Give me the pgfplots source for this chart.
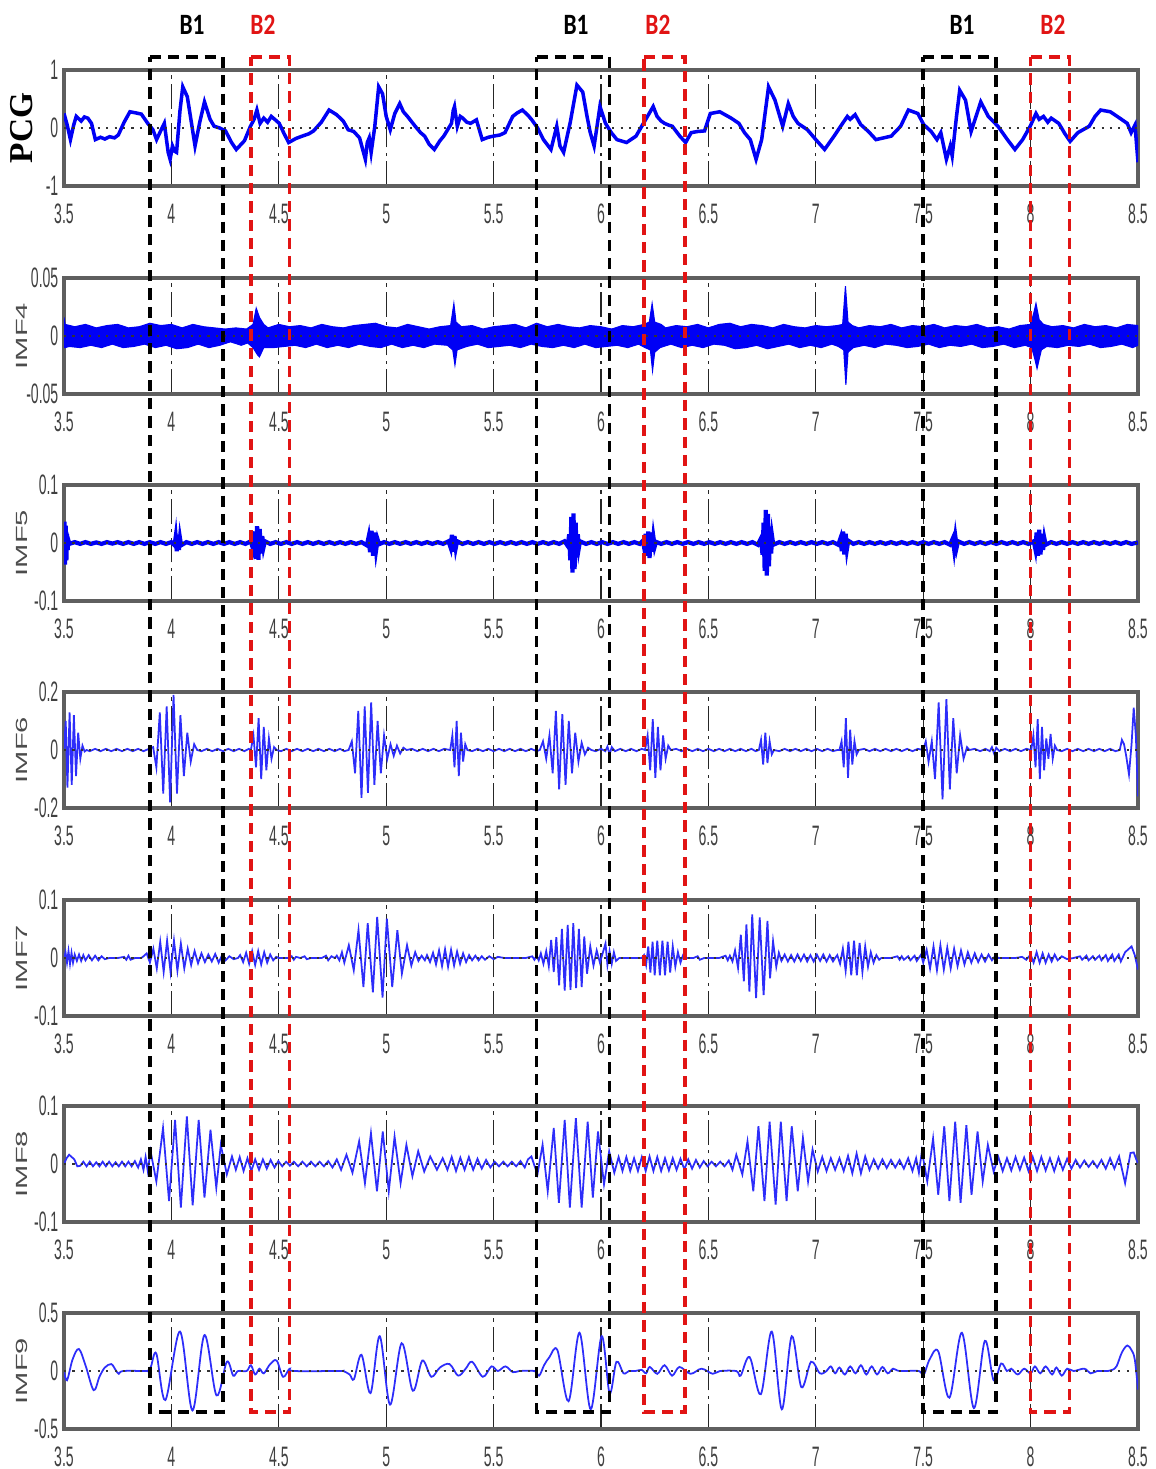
\documentclass[border=0pt]{standalone}
\usepackage{pgfplots}
\pgfplotsset{compat=1.18}
\usepackage{fontspec}
\setmainfont{Liberation Sans}
\newfontfamily\serifb{Liberation Serif}
\newfontfamily\carl{Carlito}
\definecolor{sig}{RGB}{0,0,245}
\definecolor{sigl}{RGB}{45,45,250}
\definecolor{frm}{RGB}{95,95,95}
\definecolor{bred}{RGB}{225,20,20}
\newcommand\tk[1]{\scalebox{0.5}[1]{\fontsize{8}{8}\selectfont #1}}
\newcommand\iml[1]{{\color{black!70}\scalebox{1.8}[1]{\fontsize{4.6}{5}\selectfont #1}}}
\newcommand\bl[1]{\scalebox{0.95}[1.2]{\carl\bfseries\fontsize{7}{7}\selectfont #1}}
\pgfplotsset{
 panel/.style={
   scale only axis, width=10.74cm, height=1.16cm,
   xmin=3.5, xmax=8.5, scaled ticks=false,
   xtick={3.5,4,4.5,5,5.5,6,6.5,7,7.5,8,8.5},
   xticklabels={\tk{3.5},\tk{4},\tk{4.5},\tk{5},\tk{5.5},\tk{6},\tk{6.5},\tk{7},\tk{7.5},\tk{8},\tk{8.5}},
   xmajorgrids,
   major grid style={black!85, line width=0.35pt, dash pattern=on 7pt off 1.5pt on 1pt off 1.5pt},
   axis line style={frm, line width=1.1pt},
   major tick length=0pt,
   xticklabel style={inner sep=0pt, anchor=north, yshift=-0.17cm, text=black!75},
   yticklabel style={inner sep=0pt, anchor=east, xshift=-0.05cm, text=black!75},
   every axis y label/.style={at={(axis description cs:-0.0395,0.5)}, anchor=center, rotate=90},
   clip=true,
 },
 zline/.style={black!80, line width=0.6pt, dash pattern=on 0.6pt off 1.8pt},
}
\begin{document}
\begin{tikzpicture}
\path[use as bounding box] (0,0) rectangle (11.56,-14.69);

% ---------------- PCG
\begin{axis}[panel, at={(0.64cm,-0.70cm)}, anchor=north west,
  ymin=-1, ymax=1, ytick={-1,0,1}, yticklabels={\tk{-1},\tk{0},\tk{1}},
  ylabel={\serifb\bfseries\fontsize{9.5}{10}\selectfont PCG}]
\addplot[sig, line width=1pt] coordinates {
(3.500,0.25)(3.515,0.05)(3.530,-0.20)(3.545,0.05)(3.557,0.20)(3.580,0.12)(3.595,0.19)(3.611,0.17)(3.628,0.08)(3.646,-0.20)(3.670,-0.16)(3.690,-0.19)(3.712,-0.15)(3.735,-0.17)(3.753,-0.12)(3.780,0.10)(3.807,0.28)(3.835,0.26)(3.860,0.24)(3.890,0.08)(3.914,-0.03)(3.931,-0.20)(3.950,-0.05)(3.967,0.08)(3.985,-0.42)(3.994,-0.54)(4.005,-0.31)(4.015,-0.40)(4.024,-0.42)(4.040,0.30)(4.053,0.71)(4.074,0.54)(4.095,0.05)(4.110,-0.31)(4.132,0.10)(4.154,0.45)(4.180,0.15)(4.199,0.03)(4.225,0.00)(4.252,-0.05)(4.280,-0.25)(4.302,-0.37)(4.340,-0.22)(4.368,0.03)(4.385,0.15)(4.398,0.31)(4.413,0.08)(4.430,0.17)(4.448,0.10)(4.465,0.20)(4.484,0.14)(4.502,0.08)(4.525,-0.10)(4.546,-0.25)(4.580,-0.18)(4.609,-0.14)(4.640,-0.10)(4.662,-0.05)(4.698,0.10)(4.734,0.31)(4.769,0.23)(4.800,0.12)(4.823,-0.03)(4.849,-0.06)(4.876,-0.17)(4.903,-0.54)(4.912,-0.25)(4.921,-0.17)(4.930,-0.42)(4.947,0.03)(4.965,0.71)(4.983,0.59)(5.000,0.20)(5.019,-0.03)(5.040,0.25)(5.063,0.42)(5.080,0.28)(5.099,0.20)(5.135,0.03)(5.160,-0.08)(5.179,-0.14)(5.200,-0.28)(5.224,-0.37)(5.250,-0.22)(5.268,-0.14)(5.304,0.08)(5.312,0.30)(5.318,0.37)(5.331,0.03)(5.345,0.20)(5.357,0.17)(5.375,0.10)(5.393,0.08)(5.420,0.14)(5.447,-0.20)(5.475,-0.16)(5.500,-0.14)(5.530,-0.12)(5.553,-0.08)(5.589,0.20)(5.610,0.26)(5.634,0.31)(5.660,0.22)(5.678,0.14)(5.705,0.00)(5.732,-0.20)(5.767,-0.37)(5.794,0.03)(5.809,-0.31)(5.826,-0.42)(5.857,0.10)(5.888,0.74)(5.915,0.62)(5.935,0.20)(5.950,-0.08)(5.968,-0.31)(5.995,0.37)(6.021,0.08)(6.048,-0.08)(6.074,-0.20)(6.119,-0.25)(6.163,-0.14)(6.207,0.14)(6.243,0.37)(6.261,0.20)(6.280,0.12)(6.296,0.08)(6.315,0.05)(6.332,0.03)(6.367,-0.14)(6.394,-0.25)(6.420,-0.08)(6.450,-0.06)(6.482,-0.05)(6.509,0.25)(6.553,0.28)(6.606,0.17)(6.642,0.08)(6.668,-0.08)(6.695,-0.20)(6.722,-0.54)(6.748,-0.20)(6.780,0.71)(6.810,0.48)(6.846,0.03)(6.872,0.42)(6.895,0.20)(6.917,0.08)(6.961,-0.03)(7.000,-0.20)(7.041,-0.37)(7.085,-0.14)(7.121,0.06)(7.147,0.20)(7.160,0.15)(7.183,0.23)(7.209,0.06)(7.245,-0.06)(7.280,-0.20)(7.316,-0.17)(7.351,-0.14)(7.395,0.03)(7.431,0.31)(7.475,0.25)(7.502,0.06)(7.537,-0.06)(7.564,-0.20)(7.582,-0.08)(7.608,-0.54)(7.626,-0.31)(7.635,-0.48)(7.655,0.20)(7.670,0.65)(7.697,0.48)(7.723,-0.06)(7.768,0.45)(7.803,0.20)(7.848,0.03)(7.892,-0.20)(7.927,-0.37)(7.963,-0.20)(7.998,0.03)(8.025,0.25)(8.040,0.15)(8.060,0.20)(8.080,0.10)(8.096,0.17)(8.131,0.08)(8.160,-0.10)(8.184,-0.23)(8.220,-0.08)(8.273,0.03)(8.300,0.20)(8.326,0.31)(8.371,0.28)(8.415,0.17)(8.450,0.08)(8.468,-0.08)(8.486,0.05)(8.500,-0.59)
};
\addplot[zline] coordinates {(3.5,0)(8.5,0)};
\end{axis}

% ---------------- IMF4
\begin{axis}[panel, at={(0.64cm,-2.78cm)}, anchor=north west,
  ymin=-0.05, ymax=0.05, ytick={-0.05,0,0.05}, yticklabels={\tk{-0.05},\tk{0},\tk{0.05}},
  ylabel={\iml{IMF4}}]
\addplot[sig, fill=sig, line width=0.3pt] coordinates {
(3.500,0.016)(3.505,0.010)(3.55,0.008)(3.60,0.010)(3.65,0.007)(3.70,0.009)(3.75,0.010)(3.80,0.007)(3.85,0.008)(3.90,0.011)(3.95,0.009)(4.00,0.010)(4.05,0.007)(4.10,0.010)(4.15,0.008)(4.20,0.007)(4.25,0.006)(4.30,0.007)(4.35,0.006)(4.38,0.010)(4.395,0.024)(4.41,0.016)(4.43,0.010)(4.45,0.007)(4.50,0.010)(4.55,0.008)(4.60,0.009)(4.65,0.007)(4.70,0.010)(4.75,0.008)(4.80,0.007)(4.85,0.009)(4.90,0.010)(4.95,0.011)(5.00,0.008)(5.05,0.007)(5.10,0.010)(5.15,0.008)(5.20,0.006)(5.25,0.008)(5.30,0.009)(5.315,0.028)(5.325,0.012)(5.35,0.008)(5.40,0.009)(5.45,0.006)(5.50,0.008)(5.55,0.009)(5.60,0.010)(5.65,0.007)(5.70,0.011)(5.75,0.008)(5.80,0.010)(5.85,0.008)(5.90,0.007)(5.95,0.009)(6.00,0.008)(6.05,0.006)(6.10,0.009)(6.15,0.008)(6.20,0.010)(6.225,0.012)(6.238,0.028)(6.25,0.012)(6.28,0.010)(6.30,0.007)(6.35,0.009)(6.40,0.008)(6.45,0.010)(6.50,0.007)(6.55,0.010)(6.60,0.011)(6.65,0.008)(6.70,0.010)(6.75,0.009)(6.80,0.007)(6.85,0.010)(6.90,0.008)(6.95,0.007)(7.00,0.009)(7.05,0.008)(7.10,0.009)(7.125,0.010)(7.138,0.043)(7.15,0.012)(7.17,0.009)(7.20,0.007)(7.25,0.009)(7.30,0.008)(7.35,0.010)(7.40,0.007)(7.45,0.009)(7.50,0.008)(7.55,0.010)(7.60,0.007)(7.65,0.009)(7.70,0.008)(7.75,0.010)(7.80,0.007)(7.85,0.008)(7.90,0.006)(7.95,0.009)(8.00,0.010)(8.015,0.020)(8.025,0.028)(8.04,0.014)(8.06,0.010)(8.10,0.008)(8.15,0.009)(8.20,0.007)(8.25,0.010)(8.30,0.008)(8.35,0.009)(8.40,0.007)(8.45,0.010)(8.50,0.009)
(8.50,-0.008)(8.475,-0.010)(8.425,-0.007)(8.375,-0.009)(8.325,-0.010)(8.275,-0.007)(8.225,-0.009)(8.175,-0.008)(8.125,-0.010)(8.075,-0.009)(8.05,-0.012)(8.03,-0.028)(8.02,-0.020)(8.005,-0.010)(7.975,-0.008)(7.925,-0.010)(7.875,-0.007)(7.825,-0.009)(7.775,-0.010)(7.725,-0.007)(7.675,-0.009)(7.625,-0.008)(7.575,-0.010)(7.525,-0.007)(7.475,-0.009)(7.425,-0.010)(7.375,-0.008)(7.325,-0.007)(7.275,-0.010)(7.225,-0.008)(7.175,-0.010)(7.15,-0.014)(7.14,-0.042)(7.13,-0.012)(7.105,-0.009)(7.075,-0.007)(7.025,-0.010)(6.975,-0.008)(6.925,-0.010)(6.875,-0.007)(6.825,-0.009)(6.775,-0.011)(6.725,-0.008)(6.675,-0.010)(6.625,-0.011)(6.575,-0.008)(6.525,-0.007)(6.475,-0.010)(6.425,-0.008)(6.375,-0.010)(6.325,-0.007)(6.275,-0.010)(6.25,-0.014)(6.24,-0.030)(6.23,-0.012)(6.205,-0.010)(6.175,-0.007)(6.125,-0.010)(6.075,-0.008)(6.025,-0.009)(5.975,-0.010)(5.925,-0.007)(5.875,-0.010)(5.825,-0.008)(5.775,-0.010)(5.725,-0.009)(5.675,-0.007)(5.625,-0.010)(5.575,-0.008)(5.525,-0.009)(5.475,-0.010)(5.425,-0.007)(5.375,-0.009)(5.33,-0.012)(5.32,-0.025)(5.31,-0.012)(5.285,-0.008)(5.225,-0.007)(5.175,-0.010)(5.125,-0.008)(5.075,-0.010)(5.025,-0.007)(4.975,-0.010)(4.925,-0.009)(4.875,-0.007)(4.825,-0.010)(4.775,-0.008)(4.725,-0.010)(4.675,-0.007)(4.625,-0.010)(4.575,-0.008)(4.525,-0.009)(4.475,-0.010)(4.43,-0.010)(4.41,-0.018)(4.40,-0.016)(4.38,-0.010)(4.355,-0.006)(4.325,-0.008)(4.275,-0.005)(4.225,-0.008)(4.175,-0.010)(4.125,-0.007)(4.075,-0.010)(4.025,-0.011)(3.975,-0.008)(3.925,-0.010)(3.875,-0.007)(3.825,-0.009)(3.775,-0.010)(3.725,-0.007)(3.675,-0.010)(3.625,-0.008)(3.575,-0.010)(3.525,-0.009)(3.505,-0.010)(3.50,-0.010)
};
\addplot[zline] coordinates {(3.5,0)(8.5,0)};
\end{axis}

% ---------------- IMF5
\begin{axis}[panel, at={(0.64cm,-4.85cm)}, anchor=north west,
  ymin=-0.1, ymax=0.1, ytick={-0.1,0,0.1}, yticklabels={\tk{-0.1},\tk{0},\tk{0.1}},
  ylabel={\iml{IMF5}}]
\addplot[sig, line width=1.2pt] coordinates {
(3.500,0.000)(3.502,0.037)(3.505,-0.037)(3.508,0.030)(3.511,-0.030)(3.514,0.015)(3.517,-0.012)(3.520,0.005)(3.525,-0.0015)
(3.55,0.0015)(3.575,-0.0015)(3.60,0.0015)(3.625,-0.0015)(3.65,0.001)(3.675,-0.0015)(3.70,0.0015)(3.725,-0.001)(3.75,0.0015)(3.775,-0.0015)(3.80,0.0015)(3.825,-0.0015)(3.85,0.0015)(3.875,-0.0015)(3.90,0.0015)(3.925,-0.0015)(3.95,0.0015)(3.975,-0.0015)(4.00,0.0015)(4.015,-0.004)
(4.020,0.010)(4.025,-0.014)(4.030,0.014)(4.035,-0.012)(4.040,0.008)(4.045,-0.004)
(4.07,0.0015)(4.095,-0.0015)(4.12,0.0015)(4.145,-0.0015)(4.17,0.0015)(4.195,-0.0015)(4.22,0.0015)(4.245,-0.0015)(4.27,0.0015)(4.295,-0.0015)(4.32,0.0015)(4.345,-0.0015)(4.37,0.003)
(4.380,-0.010)(4.387,0.020)(4.393,-0.027)(4.399,0.029)(4.405,-0.029)(4.411,0.024)(4.417,-0.018)(4.423,0.012)(4.429,-0.007)(4.435,0.003)
(4.46,-0.0015)(4.485,0.0015)(4.51,-0.0015)(4.535,0.0015)(4.56,-0.0015)(4.585,0.0015)(4.61,-0.0015)(4.635,0.0015)(4.66,-0.0015)(4.685,0.0015)(4.71,-0.0015)(4.735,0.0015)(4.76,-0.0015)(4.785,0.0015)(4.81,-0.0015)(4.835,0.0015)(4.86,-0.0015)(4.885,0.0015)(4.910,-0.004)
(4.918,0.010)(4.925,-0.016)(4.932,0.021)(4.939,-0.022)(4.946,0.018)(4.953,-0.012)(4.960,0.006)(4.967,-0.002)
(4.99,0.0015)(5.015,-0.0015)(5.04,0.0015)(5.065,-0.0015)(5.09,0.0015)(5.115,-0.0015)(5.14,0.0015)(5.165,-0.0015)(5.19,0.0015)(5.215,-0.0015)(5.24,0.0015)(5.265,-0.0015)(5.29,0.003)
(5.300,-0.008)(5.306,0.014)(5.312,-0.015)(5.318,0.012)(5.324,-0.008)(5.330,0.003)
(5.355,-0.0015)(5.38,0.0015)(5.405,-0.0015)(5.43,0.0015)(5.455,-0.0015)(5.48,0.0015)(5.505,-0.0015)(5.53,0.0015)(5.555,-0.0015)(5.58,0.0015)(5.605,-0.0015)(5.63,0.0015)(5.655,-0.0015)(5.68,0.0015)(5.705,-0.0015)(5.73,0.0015)(5.755,-0.0015)(5.78,0.0015)(5.805,-0.0015)(5.83,0.003)(5.845,-0.005)
(5.852,0.015)(5.857,-0.030)(5.862,0.045)(5.867,-0.051)(5.872,0.051)(5.877,-0.045)(5.882,0.035)(5.887,-0.025)(5.892,0.015)(5.897,-0.008)(5.902,0.003)
(5.93,-0.0015)(5.955,0.0015)(5.98,-0.0015)(6.005,0.0015)(6.03,-0.0015)(6.055,0.0015)(6.08,-0.0015)(6.105,0.0015)(6.13,-0.0015)(6.155,0.0015)(6.18,-0.0015)(6.195,0.004)
(6.202,-0.010)(6.208,0.016)(6.214,-0.022)(6.220,0.020)(6.226,-0.026)(6.232,0.018)(6.238,-0.015)(6.244,0.010)(6.250,-0.006)(6.256,0.002)
(6.28,-0.0015)(6.305,0.0015)(6.33,-0.0015)(6.355,0.0015)(6.38,-0.0015)(6.405,0.0015)(6.43,-0.0015)(6.455,0.0015)(6.48,-0.0015)(6.505,0.0015)(6.53,-0.0015)(6.555,0.0015)(6.58,-0.0015)(6.605,0.0015)(6.63,-0.0015)(6.655,0.0015)(6.68,-0.0015)(6.705,0.0015)(6.73,-0.003)(6.745,0.008)
(6.752,-0.020)(6.757,0.035)(6.762,-0.048)(6.767,0.057)(6.772,-0.056)(6.777,0.050)(6.782,-0.040)(6.787,0.028)(6.792,-0.018)(6.797,0.010)(6.802,-0.003)
(6.83,0.0015)(6.855,-0.0015)(6.88,0.0015)(6.905,-0.0015)(6.93,0.0015)(6.955,-0.0015)(6.98,0.0015)(7.005,-0.0015)(7.03,0.0015)(7.055,-0.0015)(7.08,0.0015)(7.105,-0.003)
(7.115,0.008)(7.121,-0.014)(7.127,0.020)(7.133,-0.020)(7.139,0.016)(7.145,-0.010)(7.151,0.004)
(7.175,-0.0015)(7.20,0.0015)(7.225,-0.0015)(7.25,0.0015)(7.275,-0.0015)(7.30,0.0015)(7.325,-0.0015)(7.35,0.0015)(7.375,-0.0015)(7.40,0.0015)(7.425,-0.0015)(7.45,0.0015)(7.475,-0.0015)(7.50,0.0015)(7.525,-0.0015)(7.55,0.0015)(7.575,-0.0015)(7.60,0.0015)(7.625,-0.003)
(7.638,0.008)(7.644,-0.010)(7.650,0.010)(7.656,-0.007)(7.662,0.003)
(7.69,-0.0015)(7.715,0.0015)(7.74,-0.0015)(7.765,0.0015)(7.79,-0.0015)(7.815,0.0015)(7.84,-0.0015)(7.865,0.0015)(7.89,-0.0015)(7.915,0.0015)(7.94,-0.0015)(7.965,0.0015)(7.99,-0.0015)(8.015,0.003)
(8.022,-0.010)(8.028,0.018)(8.034,-0.022)(8.040,0.023)(8.046,-0.020)(8.052,0.016)(8.058,-0.012)(8.064,0.008)(8.070,-0.003)
(8.095,0.0015)(8.12,-0.0015)(8.145,0.0015)(8.17,-0.0015)(8.195,0.0015)(8.22,-0.0015)(8.245,0.0015)(8.27,-0.0015)(8.295,0.0015)(8.32,-0.0015)(8.345,0.0015)(8.37,-0.0015)(8.395,0.0015)(8.42,-0.0015)(8.445,0.0015)(8.47,-0.0015)(8.5,0.001)
};
\addplot[zline] coordinates {(3.5,0)(8.5,0)};
\end{axis}

% ---------------- IMF6
\begin{axis}[panel, at={(0.64cm,-6.92cm)}, anchor=north west,
  ymin=-0.2, ymax=0.2, ytick={-0.2,0,0.2}, yticklabels={\tk{-0.2},\tk{0},\tk{0.2}},
  ylabel={\iml{IMF6}}]
\addplot[sigl, line width=0.5pt] coordinates {
(3.500,0)(3.508,0.10)(3.516,-0.13)(3.526,0.13)(3.536,-0.12)(3.546,0.12)(3.556,-0.09)(3.566,0.06)(3.576,-0.03)(3.586,0.015)(3.596,-0.005)(3.605,0.0)
(3.62,-0.004)(3.645,0.004)(3.67,-0.004)(3.695,0.004)(3.72,-0.004)(3.745,0.004)(3.77,-0.004)(3.795,0.004)(3.82,-0.004)(3.845,0.004)(3.87,-0.004)(3.895,0.004)
(3.915,0.01)(3.930,-0.06)(3.946,0.13)(3.962,-0.15)(3.978,0.15)(3.994,-0.18)(4.010,0.19)(4.026,-0.15)(4.042,0.12)(4.058,-0.09)(4.074,0.06)(4.090,-0.04)(4.106,0.02)(4.120,0.0)
(4.14,-0.004)(4.165,0.004)(4.19,-0.004)(4.215,0.004)(4.24,-0.004)(4.265,0.004)(4.29,-0.004)(4.315,0.004)(4.34,-0.004)(4.36,0.004)(4.37,0.0)
(4.382,0.05)(4.394,-0.06)(4.406,0.11)(4.418,-0.10)(4.430,0.08)(4.442,-0.07)(4.454,0.04)(4.466,-0.03)(4.478,0.01)(4.490,0.0)
(4.51,-0.004)(4.535,0.004)(4.56,-0.004)(4.585,0.004)(4.61,-0.004)(4.635,0.004)(4.66,-0.004)(4.685,0.004)(4.71,-0.004)(4.735,0.004)(4.76,-0.004)(4.785,0.004)(4.805,-0.004)(4.825,0.0)
(4.840,0.03)(4.855,-0.08)(4.870,0.135)(4.885,-0.165)(4.900,0.15)(4.915,-0.148)(4.930,0.164)(4.945,-0.12)(4.960,0.10)(4.975,-0.08)(4.990,0.05)(5.005,-0.03)(5.020,0.02)(5.035,-0.02)(5.050,0.015)(5.065,-0.012)(5.080,0.008)(5.095,0)
(5.12,0.004)(5.145,-0.004)(5.17,0.004)(5.195,-0.004)(5.22,0.004)(5.245,-0.004)(5.27,0.004)(5.298,0)
(5.308,0.05)(5.318,-0.06)(5.328,0.10)(5.338,-0.09)(5.348,0.06)(5.358,-0.04)(5.368,0.02)(5.378,0)
(5.40,-0.004)(5.425,0.004)(5.45,-0.004)(5.475,0.004)(5.50,-0.004)(5.525,0.004)(5.55,-0.004)(5.575,0.004)(5.60,-0.004)(5.625,0.004)(5.65,-0.004)(5.675,0.004)(5.70,-0.004)(5.715,0)
(5.730,0.03)(5.745,-0.03)(5.760,0.05)(5.775,-0.08)(5.790,0.135)(5.805,-0.136)(5.820,0.124)(5.835,-0.12)(5.850,0.10)(5.865,-0.08)(5.880,0.06)(5.895,-0.04)(5.910,0.025)(5.925,-0.015)(5.940,0.008)(5.955,0)
(5.975,-0.004)(6.00,0.004)(6.020,-0.004)(6.030,0.012)(6.040,-0.015)(6.050,0.010)(6.065,-0.004)(6.09,0.004)(6.115,-0.004)(6.14,0.004)(6.165,-0.004)(6.19,0.004)(6.205,0.0)
(6.217,0.05)(6.229,-0.07)(6.241,0.106)(6.253,-0.096)(6.265,0.08)(6.277,-0.07)(6.289,0.05)(6.301,-0.03)(6.313,0.015)(6.325,0)
(6.35,0.004)(6.375,-0.004)(6.40,0.004)(6.425,-0.004)(6.45,0.004)(6.475,-0.004)(6.50,0.004)(6.525,-0.004)(6.55,0.004)(6.575,-0.004)(6.60,0.004)(6.625,-0.004)(6.65,0.004)(6.675,-0.004)(6.70,0.004)(6.72,-0.004)(6.735,0.0)
(6.745,0.035)(6.755,-0.05)(6.765,0.06)(6.775,-0.045)(6.785,0.03)(6.795,-0.015)(6.805,0)
(6.83,-0.004)(6.855,0.004)(6.88,-0.004)(6.905,0.004)(6.93,-0.004)(6.955,0.004)(6.98,-0.004)(7.005,0.004)(7.03,-0.004)(7.055,0.004)(7.08,-0.004)(7.10,0.0)
(7.110,0)(7.120,0.03)(7.130,-0.06)(7.140,0.11)(7.150,-0.096)(7.160,0.07)(7.170,-0.05)(7.180,0.03)(7.190,-0.015)(7.200,0)
(7.225,0.004)(7.25,-0.004)(7.275,0.004)(7.30,-0.004)(7.325,0.004)(7.35,-0.004)(7.375,0.004)(7.40,-0.004)(7.425,0.004)(7.45,-0.004)(7.475,0.004)(7.50,0.0)
(7.512,0.03)(7.525,-0.04)(7.540,0.03)(7.555,-0.10)(7.572,0.164)(7.590,-0.17)(7.608,0.175)(7.624,-0.136)(7.640,0.11)(7.656,-0.08)(7.672,0.05)(7.688,-0.03)(7.704,0.01)(7.715,0)
(7.74,0.004)(7.765,-0.004)(7.79,0.004)(7.81,-0.004)(7.820,0.010)(7.830,-0.012)(7.840,0.008)(7.855,-0.004)(7.88,0.004)(7.905,-0.004)(7.93,0.004)(7.955,-0.004)(7.98,0.004)(8.003,0.0)
(8.013,0.05)(8.023,-0.06)(8.033,0.106)(8.043,-0.10)(8.053,0.08)(8.063,-0.07)(8.073,0.04)(8.083,-0.03)(8.093,0.055)(8.103,-0.03)(8.113,0.015)(8.123,0)
(8.145,-0.004)(8.17,0.004)(8.195,-0.004)(8.22,0.004)(8.245,-0.004)(8.27,0.004)(8.295,-0.004)(8.32,0.004)(8.345,-0.004)(8.37,0.004)(8.395,-0.004)(8.415,0.0)
(8.425,0.035)(8.435,0.02)(8.445,-0.02)(8.458,-0.084)(8.470,0.02)(8.480,0.146)(8.490,0.05)(8.500,-0.16)
};
\addplot[zline] coordinates {(3.5,0)(8.5,0)};
\end{axis}

% ---------------- IMF7
\begin{axis}[panel, at={(0.64cm,-9.00cm)}, anchor=north west,
  ymin=-0.1, ymax=0.1, ytick={-0.1,0,0.1}, yticklabels={\tk{-0.1},\tk{0},\tk{0.1}},
  ylabel={\iml{IMF7}}]
\addplot[sigl, line width=0.5pt] coordinates {
(3.500,0)(3.507,0.010)(3.514,-0.008)(3.521,0.012)(3.528,-0.010)(3.535,0.009)(3.542,-0.008)(3.550,0.006)(3.560,-0.005)(3.570,0.006)(3.580,-0.005)(3.590,0.005)(3.600,-0.004)(3.615,0.005)(3.630,-0.004)(3.645,0.004)(3.660,-0.004)(3.675,0.003)(3.690,-0.002)(3.710,0)(3.750,0)(3.780,0.002)(3.790,-0.003)(3.800,0.004)(3.810,-0.003)(3.830,0)(3.860,0)
(3.870,0.003)(3.885,0.008)(3.900,-0.008)(3.916,0.016)(3.932,-0.018)(3.948,0.028)(3.964,-0.024)(3.980,0.030)(3.996,-0.024)(4.012,0.030)(4.028,-0.022)(4.044,0.025)(4.060,-0.018)(4.076,0.016)(4.092,-0.012)(4.108,0.012)(4.124,-0.009)(4.140,0.008)(4.156,-0.007)(4.172,0.006)(4.188,-0.006)(4.204,0.007)(4.220,-0.008)(4.236,0.005)(4.252,-0.004)(4.270,0.003)(4.290,-0.002)(4.310,0)
(4.320,0.005)(4.334,-0.007)(4.348,0.009)(4.362,-0.010)(4.376,0.012)(4.390,-0.012)(4.404,0.012)(4.418,-0.011)(4.432,0.010)(4.446,-0.008)(4.460,0.006)(4.474,-0.004)(4.488,0.002)(4.500,0)
(4.550,0)(4.560,0.003)(4.570,-0.003)(4.580,0.002)(4.600,0)(4.620,0.003)(4.630,-0.002)(4.650,0)(4.700,0)(4.720,0.004)(4.730,-0.004)(4.745,0.003)(4.760,0)(4.770,0.004)(4.782,-0.004)(4.794,0.010)(4.805,-0.008)(4.826,0.022)(4.849,-0.021)(4.871,0.048)(4.894,-0.050)(4.914,0.060)(4.938,-0.059)(4.958,0.071)(4.983,-0.068)(5.003,0.068)(5.028,-0.050)(5.052,0.048)(5.073,-0.027)(5.097,0.022)(5.117,-0.013)(5.135,0.010)(5.150,-0.005)(5.165,0.004)(5.180,-0.004)
(5.190,0.005)(5.204,-0.007)(5.218,0.009)(5.232,-0.011)(5.246,0.013)(5.260,-0.014)(5.274,0.015)(5.288,-0.015)(5.302,0.014)(5.316,-0.013)(5.330,0.011)(5.344,-0.010)(5.358,0.008)(5.372,-0.007)(5.386,0.005)(5.400,-0.004)(5.415,0.004)(5.430,-0.004)(5.445,0.003)(5.460,-0.003)(5.480,0.003)(5.500,-0.002)(5.520,0.002)(5.550,0)
(5.650,0)(5.680,0.003)(5.690,-0.003)(5.700,0.004)(5.710,-0.004)
(5.720,0.008)(5.732,-0.010)(5.745,0.012)(5.757,-0.014)(5.768,0.031)(5.780,-0.024)(5.792,0.036)(5.805,-0.047)(5.818,0.050)(5.831,-0.056)(5.845,0.057)(5.858,-0.055)(5.871,0.060)(5.884,-0.052)(5.897,0.050)(5.910,-0.050)(5.922,0.037)(5.935,-0.027)(5.950,0.020)(5.965,-0.013)(5.980,0.013)(5.995,-0.008)(6.021,0.025)(6.030,-0.012)(6.040,0.012)(6.050,-0.010)(6.060,0.010)(6.070,-0.005)(6.085,0)(6.190,0)
(6.200,0.005)(6.210,-0.012)(6.220,0.020)(6.230,-0.025)(6.240,0.028)(6.250,-0.030)(6.262,0.030)(6.274,-0.030)(6.286,0.030)(6.298,-0.030)(6.310,0.028)(6.322,-0.025)(6.334,0.020)(6.346,-0.015)(6.358,0.010)(6.370,-0.008)(6.382,0.005)(6.395,0)(6.430,0)(6.450,0.003)(6.460,-0.003)(6.480,0)(6.550,0)(6.580,0.004)(6.590,-0.004)
(6.600,0.004)(6.612,-0.006)(6.624,0.013)(6.638,-0.017)(6.651,0.040)(6.665,-0.040)(6.677,0.058)(6.691,-0.058)(6.704,0.075)(6.722,-0.069)(6.739,0.070)(6.757,-0.064)(6.775,0.064)(6.787,-0.035)(6.801,0.029)(6.816,-0.015)(6.828,0.009)(6.840,-0.005)
(6.855,0.006)(6.870,-0.006)(6.885,0.005)(6.900,-0.006)(6.915,0.006)(6.930,-0.005)(6.945,0.006)(6.960,-0.006)(6.975,0.005)(6.990,-0.006)(7.005,0.006)(7.020,-0.005)(7.035,0.006)(7.050,-0.006)(7.065,0.005)(7.080,-0.006)(7.090,0)
(7.100,0.005)(7.113,-0.010)(7.126,0.016)(7.139,-0.022)(7.152,0.028)(7.165,-0.030)(7.178,0.030)(7.191,-0.030)(7.204,0.026)(7.217,-0.024)(7.230,0.020)(7.243,-0.015)(7.256,0.010)(7.269,-0.008)(7.282,0.005)(7.295,-0.003)(7.305,0)
(7.350,0)(7.380,0.003)(7.390,-0.003)(7.400,0.003)(7.410,-0.003)(7.430,0.003)(7.440,-0.004)(7.460,0.004)(7.470,-0.005)(7.490,0.006)
(7.500,-0.008)(7.516,0.014)(7.532,-0.018)(7.548,0.020)(7.564,-0.021)(7.580,0.022)(7.596,-0.020)(7.612,0.018)(7.628,-0.018)(7.644,0.016)(7.660,-0.014)(7.676,0.013)(7.692,-0.011)(7.708,0.010)(7.724,-0.008)(7.740,0.008)(7.756,-0.007)(7.772,0.006)(7.788,-0.006)(7.804,0.006)(7.820,-0.004)(7.836,0.004)(7.850,0)
(7.930,0)(7.960,0.002)(7.980,-0.003)
(8.000,0.006)(8.014,-0.008)(8.028,0.010)(8.042,-0.008)(8.056,0.008)(8.070,-0.008)(8.084,0.006)(8.098,-0.006)(8.112,0.006)(8.126,-0.004)(8.145,0.003)(8.170,-0.002)(8.200,0)
(8.230,0.003)(8.240,-0.003)(8.260,0.004)(8.270,-0.004)(8.290,0.003)(8.300,-0.003)(8.320,0.004)(8.330,-0.004)(8.350,0.005)(8.360,-0.005)(8.380,0.006)(8.390,-0.005)(8.410,0.006)(8.420,-0.006)(8.440,0.010)(8.455,0.015)(8.470,0.020)(8.485,0.005)(8.500,-0.020)
};
\addplot[zline] coordinates {(3.5,0)(8.5,0)};
\end{axis}

% ---------------- IMF8
\begin{axis}[panel, at={(0.64cm,-11.06cm)}, anchor=north west,
  ymin=-0.1, ymax=0.1, ytick={-0.1,0,0.1}, yticklabels={\tk{-0.1},\tk{0},\tk{0.1}},
  ylabel={\iml{IMF8}}]
\addplot[sigl, line width=0.5pt] coordinates {
(3.500,0)(3.512,0.010)(3.524,0.016)(3.536,0.012)(3.548,0.008)(3.562,-0.004)(3.576,-0.003)(3.590,0.004)(3.605,-0.004)(3.620,0.004)(3.635,-0.004)(3.650,0.003)(3.665,-0.004)(3.680,0.004)(3.695,-0.004)(3.710,0.004)(3.725,-0.004)(3.740,0.003)(3.755,-0.004)(3.770,0.004)(3.785,-0.004)(3.800,0.004)(3.815,-0.004)(3.830,0.005)(3.845,-0.006)(3.858,0.008)(3.870,-0.010)(3.880,0.012)(3.890,-0.012)
(3.903,0.022)(3.930,-0.030)(3.961,0.062)(3.989,-0.064)(4.017,0.076)(4.044,-0.075)(4.072,0.082)(4.099,-0.071)(4.127,0.076)(4.154,-0.058)(4.182,0.059)(4.209,-0.041)(4.230,0.033)(4.258,-0.018)(4.282,0.013)
(4.300,-0.010)(4.318,0.012)(4.336,-0.012)(4.354,0.010)(4.372,-0.012)(4.390,0.008)(4.408,-0.010)(4.426,0.008)(4.444,-0.008)(4.462,0.007)(4.480,-0.006)(4.498,0.005)(4.516,-0.004)(4.534,0.004)(4.552,-0.003)(4.570,0.004)(4.590,-0.004)(4.610,0.004)(4.630,-0.004)(4.650,0.004)(4.670,-0.004)(4.690,0.004)(4.710,-0.004)(4.730,0.005)(4.750,-0.006)(4.770,0.008)(4.790,-0.010)
(4.815,0.016)(4.843,-0.015)(4.874,0.039)(4.901,-0.033)(4.929,0.053)(4.957,-0.047)(4.984,0.056)(5.012,-0.047)(5.039,0.047)(5.067,-0.033)(5.094,0.033)(5.122,-0.021)(5.149,0.022)(5.177,-0.013)(5.205,0.013)(5.236,-0.010)(5.263,0.010)
(5.285,-0.010)(5.305,0.012)(5.325,-0.012)(5.345,0.011)(5.365,-0.010)(5.385,0.012)(5.405,-0.010)(5.425,0.009)(5.445,-0.008)(5.465,0.007)(5.485,-0.006)(5.505,0.004)(5.525,-0.004)(5.545,0.004)(5.565,-0.004)(5.585,0.004)(5.605,-0.004)(5.625,0.005)(5.645,-0.006)(5.660,0.008)
(5.676,0.013)(5.704,-0.018)(5.728,0.033)(5.752,-0.047)(5.780,0.062)(5.804,-0.067)(5.831,0.076)(5.855,-0.075)(5.883,0.079)(5.910,-0.075)(5.938,0.073)(5.962,-0.058)(5.986,0.056)(6.014,-0.035)(6.038,0.022)(6.062,-0.015)
(6.082,0.012)(6.100,-0.012)(6.118,0.012)(6.136,-0.012)(6.154,0.010)(6.172,-0.012)(6.190,0.012)(6.208,-0.012)(6.226,0.013)(6.244,-0.012)(6.262,0.012)(6.280,-0.012)(6.298,0.010)(6.316,-0.011)(6.334,0.010)(6.352,-0.010)(6.370,0.009)(6.388,-0.009)(6.406,0.008)(6.424,-0.008)(6.442,0.007)(6.460,-0.006)(6.478,0.005)(6.496,-0.004)(6.515,0.004)(6.535,-0.004)(6.555,0.004)(6.575,-0.004)(6.595,0.006)(6.612,-0.010)
(6.630,0.016)(6.658,-0.018)(6.682,0.039)(6.709,-0.047)(6.733,0.065)(6.761,-0.064)(6.785,0.073)(6.813,-0.070)(6.837,0.073)(6.864,-0.064)(6.888,0.065)(6.916,-0.047)(6.940,0.045)(6.964,-0.030)(6.985,0.025)(7.009,-0.013)
(7.030,0.012)(7.050,-0.012)(7.070,0.010)(7.090,-0.010)(7.110,0.010)(7.130,-0.012)(7.150,0.014)(7.170,-0.016)(7.190,0.018)(7.210,-0.016)(7.230,0.013)(7.250,-0.010)(7.270,0.008)(7.290,-0.008)(7.310,0.008)(7.330,-0.007)(7.350,0.007)(7.370,-0.006)(7.390,0.007)(7.410,-0.008)(7.430,0.010)(7.450,-0.012)(7.467,0.010)
(7.480,-0.015)(7.494,0.022)(7.519,-0.030)(7.546,0.044)(7.570,-0.053)(7.598,0.065)(7.622,-0.064)(7.649,0.073)(7.674,-0.067)(7.701,0.067)(7.725,-0.053)(7.753,0.056)(7.777,-0.030)(7.801,0.033)(7.828,-0.013)
(7.850,0.012)(7.870,-0.012)(7.890,0.010)(7.910,-0.011)(7.930,0.012)(7.950,-0.010)(7.970,0.011)(7.990,-0.012)(8.010,0.012)(8.030,-0.012)(8.050,0.012)(8.070,-0.011)(8.090,0.010)(8.110,-0.012)(8.130,0.011)(8.150,-0.010)(8.170,0.009)(8.190,-0.008)(8.210,0.007)(8.230,-0.006)(8.250,0.006)(8.270,-0.005)(8.290,0.005)(8.310,-0.006)(8.330,0.007)(8.350,-0.008)(8.370,0.010)(8.390,-0.008)(8.412,0.013)(8.440,-0.033)(8.465,0.019)(8.480,0.020)(8.495,0.005)(8.500,0.002)
};
\addplot[zline] coordinates {(3.5,0)(8.5,0)};
\end{axis}

% ---------------- IMF9
\begin{axis}[panel, at={(0.64cm,-13.13cm)}, anchor=north west,
  ymin=-0.5, ymax=0.5, ytick={-0.5,0,0.5}, yticklabels={\tk{-0.5},\tk{0},\tk{0.5}},
  ylabel={\iml{IMF9}}]
\addplot[sigl, line width=0.5pt, smooth, tension=0.55] coordinates {
(3.500,0)(3.514,-0.08)(3.540,0.10)(3.569,0.19)(3.600,0.05)(3.638,-0.165)(3.665,-0.05)(3.690,0.03)(3.720,0.06)(3.740,0.01)(3.755,-0.024)(3.775,0)(3.880,0)(3.890,0)(3.905,0.04)(3.930,0.15)(3.972,-0.25)(4.040,0.34)(4.098,-0.34)(4.154,0.31)(4.210,-0.21)(4.258,0.08)(4.288,-0.04)(4.310,0)(4.350,0)(4.370,0.05)(4.390,-0.03)(4.410,0.02)(4.430,-0.02)(4.460,0.06)(4.490,0.09)(4.520,-0.05)(4.550,0.02)(4.570,0)(4.780,0)(4.800,0)(4.830,-0.03)(4.850,-0.07)(4.885,0.14)(4.927,-0.19)(4.970,0.30)(5.018,-0.29)(5.072,0.24)(5.124,-0.17)(5.168,0.09)(5.210,-0.05)(5.250,0.03)(5.295,0.06)(5.335,-0.04)(5.370,0.02)(5.400,0.08)(5.450,-0.05)(5.490,0.04)(5.520,0)(5.555,0.04)(5.590,-0.01)(5.620,0)(5.690,0)(5.712,-0.04)(5.735,0.05)(5.760,0.12)(5.797,0.18)(5.849,-0.26)(5.900,0.33)(5.952,-0.33)(6.003,0.30)(6.040,-0.19)(6.072,0.08)(6.105,-0.02)(6.130,0)(6.160,0)(6.190,0.01)(6.210,-0.02)(6.227,0.035)(6.262,-0.024)(6.296,0.05)(6.331,-0.04)(6.365,0.035)(6.417,-0.024)(6.468,0.02)(6.520,-0.024)(6.554,0)(6.630,0)(6.650,-0.04)(6.692,0.12)(6.744,-0.20)(6.795,0.34)(6.842,-0.33)(6.888,0.30)(6.933,-0.14)(6.978,0.08)(7.019,-0.02)(7.050,0)(7.070,0.04)(7.090,-0.02)(7.110,0.03)(7.135,-0.03)(7.160,0.04)(7.185,-0.02)(7.210,0.05)(7.235,-0.03)(7.260,0.04)(7.285,-0.03)(7.310,0.035)(7.335,-0.02)(7.360,0.02)(7.390,0)(7.480,0)(7.501,-0.04)(7.530,0.10)(7.570,0.17)(7.622,-0.23)(7.680,0.33)(7.736,-0.32)(7.787,0.26)(7.828,-0.08)(7.863,0.065)(7.890,0)(7.910,0.02)(7.940,-0.03)(7.970,0.02)(8.000,-0.02)(8.020,0.04)(8.045,-0.02)(8.070,0.04)(8.100,-0.03)(8.120,0.03)(8.145,-0.04)(8.170,0.02)(8.200,0)(8.250,0.02)(8.280,-0.02)(8.310,0)(8.360,0)(8.380,0.01)(8.400,0.04)(8.425,0.16)(8.450,0.22)(8.470,0.18)(8.485,0.10)(8.500,-0.16)
};
\addplot[zline] coordinates {(3.5,0)(8.5,0)};
\end{axis}

% ---------------- dashed boxes overlay
\begin{axis}[scale only axis, width=10.74cm, height=14.69cm, at={(0.64cm,0cm)}, anchor=north west,
  xmin=3.5, xmax=8.5, ymin=-1469, ymax=0, hide axis, clip=false]
\addplot[black, line width=1pt, dash pattern=on 3.2pt off 2pt] coordinates {(3.90,-57)(4.24,-57)(4.24,-1412)(3.90,-1412)(3.90,-57)};
\addplot[black, line width=1pt, dash pattern=on 3.2pt off 2pt] coordinates {(5.70,-57)(6.04,-57)(6.04,-1412)(5.70,-1412)(5.70,-57)};
\addplot[black, line width=1pt, dash pattern=on 3.2pt off 2pt] coordinates {(7.50,-57)(7.84,-57)(7.84,-1412)(7.50,-1412)(7.50,-57)};
\addplot[bred, line width=1pt, dash pattern=on 3.2pt off 2pt] coordinates {(4.37,-57)(4.55,-57)(4.55,-1412)(4.37,-1412)(4.37,-57)};
\addplot[bred, line width=1pt, dash pattern=on 3.2pt off 2pt] coordinates {(6.20,-57)(6.39,-57)(6.39,-1412)(6.20,-1412)(6.20,-57)};
\addplot[bred, line width=1pt, dash pattern=on 3.2pt off 2pt] coordinates {(8.00,-57)(8.18,-57)(8.18,-1412)(8.00,-1412)(8.00,-57)};
\node[text=black] at (axis cs:4.096,-25) {\bl{B1}};
\node[text=bred] at (axis cs:4.426,-25) {\bl{B2}};
\node[text=black] at (axis cs:5.884,-25) {\bl{B1}};
\node[text=bred] at (axis cs:6.265,-25) {\bl{B2}};
\node[text=black] at (axis cs:7.681,-25) {\bl{B1}};
\node[text=bred] at (axis cs:8.104,-25) {\bl{B2}};
\end{axis}
\end{tikzpicture}
\end{document}
